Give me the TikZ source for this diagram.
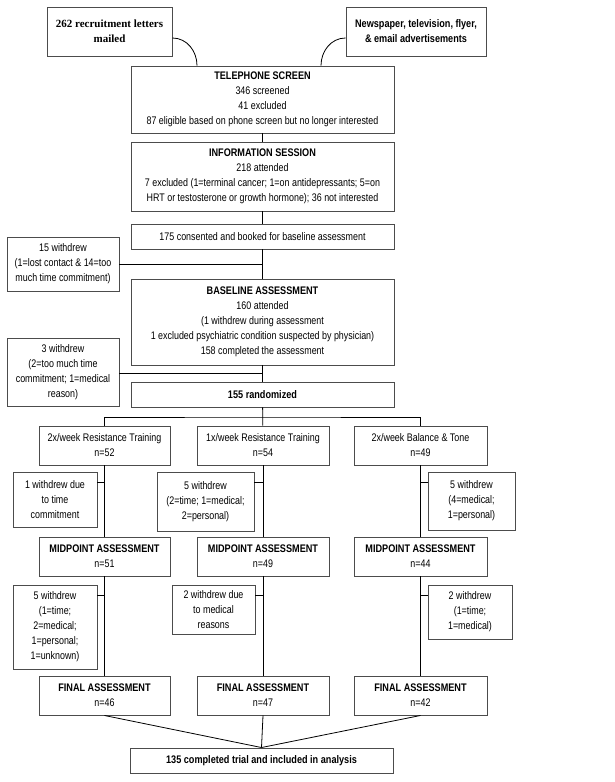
\documentclass[tikz,border=0pt]{standalone}
\usepackage{fontspec}
\setmainfont[FakeStretch=0.81, BoldFeatures={FakeStretch=0.83}]{Liberation Sans}
\newfontfamily\letterfont{Liberation Serif}
\usetikzlibrary{positioning}

\tikzset{
  box/.style={draw=black!70, line width=0.95pt, inner sep=0pt, align=center,
    font=\fontsize{11}{15}\selectfont},
  link/.style={black, line width=0.8pt}
}

\begin{document}
\begin{tikzpicture}[x=1pt,y=-1pt]
\useasboundingbox (0,0) rectangle (615,782);
\node[box, minimum width=125, minimum height=49, font=\letterfont\bfseries\fontsize{11}{15}\selectfont] (letters) at (109.5,31.5) {262 recruitment letters\\mailed};
\node[box, minimum width=140, minimum height=49, font=\bfseries\fontsize{11}{15}\selectfont] (news) at (416,31.5) {Newspaper, television, flyer,\\\& email advertisements};
\node[box, minimum width=263, minimum height=67] (phone) at (262.5,99.5) {\textbf{TELEPHONE SCREEN}\\346 screened\\41 excluded\\87 eligible based on phone screen but no longer interested};
\node[box, minimum width=263, minimum height=69] (info) at (262.5,176.5) {\textbf{INFORMATION SESSION}\\218 attended\\7 excluded (1=terminal cancer; 1=on antidepressants; 5=on\\HRT or testosterone or growth hormone); 36 not interested};
\node[box, minimum width=263, minimum height=25] (consent) at (262.5,236.5) {175 consented and booked for baseline assessment};
\node[box, minimum width=112, minimum height=54] (with15) at (63,264) {15 withdrew\\(1=lost contact \& 14=too\\much time commitment)};
\node[box, minimum width=263, minimum height=86] (baseline) at (262.5,322) {\textbf{BASELINE ASSESSMENT}\\160 attended\\(1 withdrew during assessment\\1 excluded psychiatric condition suspected by physician)\\158 completed the assessment};
\node[box, minimum width=112, minimum height=68] (with3) at (63,372) {3 withdrew\\(2=too much time\\commitment; 1=medical\\reason)};
\node[box, minimum width=263, minimum height=25] (rand) at (262.5,394.5) {\textbf{155 randomized}};
\node[box, minimum width=131, minimum height=39] (arm1) at (104.5,445.5) {2x/week Resistance Training\\n=52};
\node[box, minimum width=132, minimum height=39] (arm2) at (263,445.5) {1x/week Resistance Training\\n=54};
\node[box, minimum width=133, minimum height=39] (arm3) at (420.5,445.5) {2x/week Balance \& Tone\\n=49};
\node[box, minimum width=84, minimum height=55] (wa1) at (55,499.5) {1 withdrew due\\to time\\commitment};
\node[box, minimum width=97, minimum height=59] (wa2) at (205.5,501.5) {5 withdrew\\(2=time; 1=medical;\\2=personal)};
\node[box, minimum width=87, minimum height=58] (wa3) at (471.5,501) {5 withdrew\\(4=medical;\\1=personal)};
\node[box, minimum width=131, minimum height=39] (mid1) at (104.5,556.5) {\textbf{MIDPOINT ASSESSMENT}\\n=51};
\node[box, minimum width=132, minimum height=39] (mid2) at (263,556.5) {\textbf{MIDPOINT ASSESSMENT}\\n=49};
\node[box, minimum width=133, minimum height=39] (mid3) at (420.5,556.5) {\textbf{MIDPOINT ASSESSMENT}\\n=44};
\node[box, minimum width=84, minimum height=84] (wb1) at (55,627) {5 withdrew\\(1=time;\\2=medical;\\1=personal;\\1=unknown)};
\node[box, minimum width=83, minimum height=49] (wb2) at (213.5,609.5) {2 withdrew due\\to medical\\reasons};
\node[box, minimum width=84, minimum height=54] (wb3) at (470,612) {2 withdrew\\(1=time;\\1=medical)};
\node[box, minimum width=131, minimum height=39] (fin1) at (104.5,695.5) {\textbf{FINAL ASSESSMENT}\\n=46};
\node[box, minimum width=132, minimum height=39] (fin2) at (263,695.5) {\textbf{FINAL ASSESSMENT}\\n=47};
\node[box, minimum width=133, minimum height=39] (fin3) at (420.5,695.5) {\textbf{FINAL ASSESSMENT}\\n=42};
\node[box, minimum width=263, minimum height=25] (total) at (261.5,760.5) {\textbf{135 completed trial and included in analysis}};

\draw[link] ([yshift=-6.5pt]letters.east) to[out=0,in=90] ([xshift=-65.5pt]phone.north);
\draw[link] ([yshift=-6.5pt]news.west) to[out=180,in=90] ([xshift=58.5pt]phone.north);
\draw[link] (phone) -- (info);
\draw[link] (info) -- (consent);
\draw[link] (consent) -- (baseline);
\draw[link] (baseline) -- (rand);
\draw[link] (with15.east) -- (with15.east -| consent.south);
\draw[link] ([yshift=-1pt]with3.east) coordinate (t0) -- (t0 -| baseline.south);
\coordinate (split) at (263,417);
\draw[link] (rand) -- (arm2);
\draw[link] (arm1.north) |- (split) -| (arm3.north);
\draw[link] (arm1) -- (mid1);
\draw[link] (arm2) -- (mid2);
\draw[link] (arm3) -- (mid3);
\draw[link] (mid1) -- (fin1);
\draw[link] (mid2) -- (fin2);
\draw[link] (mid3) -- (fin3);
\draw[link] ([yshift=-11pt]wa1.north east) coordinate (t1) -- (t1 -| arm1.south);
\draw[link] ([yshift=-11pt]wa2.north east) coordinate (t2) -- (t2 -| arm2.south);
\draw[link] ([yshift=-11pt]wa3.north west) coordinate (t3) -- (t3 -| arm3.south);
\draw[link] ([yshift=-11pt]wb1.north east) coordinate (t4) -- (t4 -| mid1.south);
\draw[link] ([yshift=-11pt]wb2.north east) coordinate (t5) -- (t5 -| mid2.south);
\draw[link] ([yshift=-11pt]wb3.north west) coordinate (t6) -- (t6 -| mid3.south);
\draw[link] (fin1.south) -- (total.north);
\draw[link] (fin2.south) -- (total.north);
\draw[link] (fin3.south) -- (total.north);
\end{tikzpicture}
\end{document}
